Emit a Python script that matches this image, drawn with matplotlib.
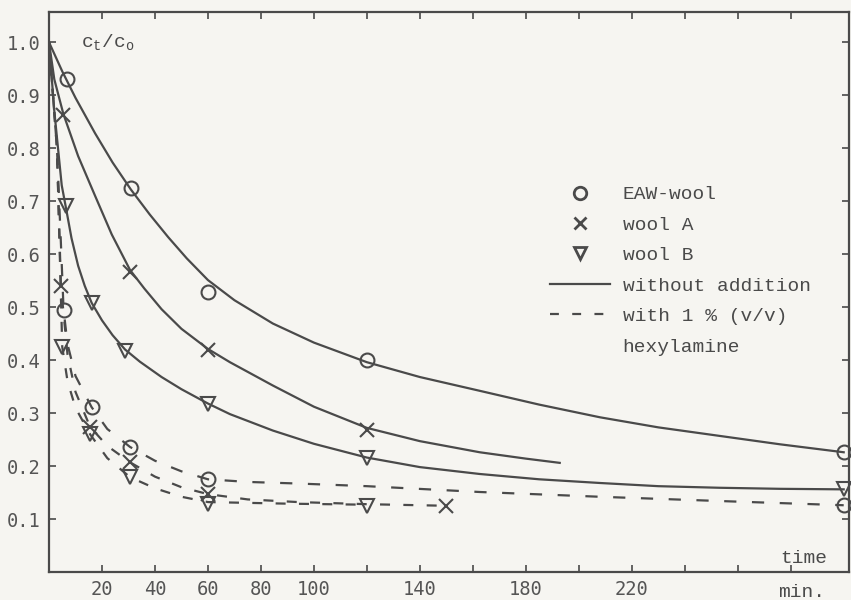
import matplotlib
matplotlib.use("Agg")
import matplotlib.pyplot as plt
from matplotlib.lines import Line2D

plt.rcParams['mathtext.fontset'] = 'custom'
plt.rcParams['mathtext.rm'] = 'Liberation Mono'
plt.rcParams['mathtext.it'] = 'Liberation Mono'

# measured points (time in min, c_t/c_o)
eaw_t = [6.7, 30.9, 60, 120, 300]
eaw_y = [0.93, 0.724, 0.528, 0.40, 0.226]
woolA_t = [5.4, 30.6, 60, 120]
woolA_y = [0.862, 0.566, 0.419, 0.268]
woolB_t = [6.3, 16.1, 28.7, 60, 120]
woolB_y = [0.69, 0.508, 0.418, 0.317, 0.215]
woolB_end_t = [300]
woolB_end_y = [0.157]

eaw_hex_t = [5.5, 16.1, 30.6, 60, 300]
eaw_hex_y = [0.495, 0.311, 0.236, 0.175, 0.126]
woolA_hex_t = [4.5, 15.5, 30.6, 60, 150]
woolA_hex_y = [0.54, 0.274, 0.207, 0.147, 0.125]
woolB_hex_t = [5, 15.5, 30.6, 60, 120]
woolB_hex_y = [0.425, 0.26, 0.179, 0.128, 0.125]

# drawn curves
eaw_fit_t = [0, 5, 10, 17.4, 24, 30.9, 38, 45, 52, 60, 70, 84.5, 100, 120, 140, 162.6,
             185, 208, 230, 253, 276, 300]
eaw_fit_y = [1.0, 0.945, 0.895, 0.828, 0.773, 0.722, 0.675, 0.632, 0.592, 0.551, 0.513,
             0.469, 0.433, 0.396, 0.368, 0.342, 0.316, 0.292, 0.273, 0.257, 0.241, 0.226]
woolA_fit_t = [0, 2, 5.4, 11, 17.4, 23.7, 30.6, 36, 42.5, 50, 60, 68.3, 84.5, 100, 120,
               140, 162.6, 180, 192.8]
woolA_fit_y = [1.0, 0.93, 0.865, 0.785, 0.71, 0.637, 0.57, 0.535, 0.496, 0.459, 0.421,
               0.396, 0.352, 0.312, 0.272, 0.247, 0.226, 0.214, 0.206]
woolB_fit_t = [0, 2, 4.8, 6.3, 8.5, 11, 13.5, 16.1, 20, 24, 28.7, 34.3, 42.5, 50, 60,
               68.3, 84.5, 100, 120, 140, 162.6, 185, 208, 230, 253, 276, 300]
woolB_fit_y = [1.0, 0.87, 0.73, 0.69, 0.63, 0.578, 0.54, 0.508, 0.475, 0.447, 0.42,
               0.397, 0.368, 0.345, 0.318, 0.298, 0.267, 0.242, 0.216, 0.198, 0.185,
               0.175, 0.168, 0.162, 0.159, 0.157, 0.156]

eaw_hexfit_t = [0, 3, 4.5, 5.5, 7, 10, 16.1, 22, 30.6, 40, 50, 60, 75, 94, 120, 162.6,
                208, 253, 300]
eaw_hexfit_y = [1.0, 0.8, 0.62, 0.495, 0.43, 0.37, 0.311, 0.27, 0.236, 0.21, 0.19, 0.175,
                0.17, 0.167, 0.162, 0.151, 0.142, 0.134, 0.126]
woolA_hexfit_t = [0, 3, 4.5, 7, 10, 15.5, 22, 30.6, 40, 50, 60, 75, 94, 120, 150]
woolA_hexfit_y = [1.0, 0.8, 0.54, 0.41, 0.34, 0.274, 0.238, 0.207, 0.18, 0.16, 0.147,
                  0.137, 0.132, 0.128, 0.125]
woolB_hexfit_t = [0, 3, 5, 7, 10, 15.5, 22, 30.6, 40, 50, 60, 90, 120]
woolB_hexfit_y = [1.0, 0.8, 0.425, 0.36, 0.31, 0.26, 0.215, 0.179, 0.158, 0.142, 0.132,
                  0.129, 0.127]

xtick_pos = list(range(20, 281, 20))
xtick_lab = ['20', '40', '60', '80', '100', '', '140', '', '180', '', '220', '', '', '']
ytick_pos = [0.1, 0.2, 0.3, 0.4, 0.5, 0.6, 0.7, 0.8, 0.9, 1.0]
ytick_lab = ['0.1', '0.2', '0.3', '0.4', '0.5', '0.6', '0.7', '0.8', '0.9', '1.0']

ink = '#4a4a4a'
paper = '#f6f5f1'
mono = 'Liberation Mono'

fig = plt.figure(figsize=(8.51, 6.0), dpi=100, facecolor=paper)
ax = fig.add_axes([49/851, 28/600, 800/851, 560/600], facecolor=paper)

lw = 1.6
ax.plot(eaw_fit_t, eaw_fit_y, color=ink, lw=lw)
ax.plot(woolA_fit_t, woolA_fit_y, color=ink, lw=lw)
ax.plot(woolB_fit_t, woolB_fit_y, color=ink, lw=lw)
ax.plot(eaw_hexfit_t, eaw_hexfit_y, color=ink, lw=lw, dashes=(5.5, 7))
ax.plot(woolA_hexfit_t, woolA_hexfit_y, color=ink, lw=lw, dashes=(4.5, 6))
ax.plot(woolB_hexfit_t, woolB_hexfit_y, color=ink, lw=lw, dashes=(4.5, 6))

mk = dict(linestyle='none', color=ink, mfc='none', mew=1.5, ms=10, clip_on=False)
ax.plot(eaw_t, eaw_y, marker='o', **mk)
ax.plot(eaw_hex_t, eaw_hex_y, marker='o', **mk)
ax.plot(woolA_t, woolA_y, marker='x', **mk)
ax.plot(woolA_hex_t, woolA_hex_y, marker='x', **mk)
ax.plot(woolB_t, woolB_y, marker='v', **mk)
ax.plot(woolB_end_t, woolB_end_y, marker='v', **mk)
ax.plot(woolB_hex_t, woolB_hex_y, marker='v', **mk)

ax.set_xlim(0, 302)
ax.set_ylim(0, 1.057)
ax.set_xticks(xtick_pos)
ax.set_xticklabels(xtick_lab)
ax.set_yticks(ytick_pos)
ax.set_yticklabels(ytick_lab)
ax.tick_params(direction='in', length=5, width=1.2, colors=ink, labelcolor='#555555',
               top=True, right=True, labelsize=13.5, pad=6)
for lab in ax.get_xticklabels() + ax.get_yticklabels():
    lab.set_family('DejaVu Sans Mono')
for sp in ax.spines.values():
    sp.set_linewidth(1.6)
    sp.set_color(ink)

ax.text(12, 1.0, r'c$_\mathrm{t}$/c$_\mathrm{o}$', family=mono, fontsize=14, color=ink,
        ha='left', va='center')
ax.text(285, 0.026, 'time', family=mono, fontsize=14, color=ink, ha='center', va='center')
ax.text(284, -0.036, 'min.', family=mono, fontsize=14, color=ink, ha='center', va='center',
        transform=ax.get_xaxis_transform())

handles = [
    Line2D([], [], ls='none', marker='o', color=ink, mfc='none', mew=2, ms=9),
    Line2D([], [], ls='none', marker='x', color=ink, mew=2, ms=9),
    Line2D([], [], ls='none', marker='v', color=ink, mfc='none', mew=2, ms=9),
    Line2D([], [], color=ink, lw=lw),
    Line2D([], [], color=ink, lw=lw, dashes=(4, 6)),
    Line2D([], [], ls='none'),
]
labels = ['EAW-wool', 'wool A', 'wool B', 'without addition', 'with 1 % (v/v)', 'hexylamine']
leg = ax.legend(handles, labels, loc='upper left', bbox_to_anchor=(540/851, 1 - 176/600),
                bbox_transform=fig.transFigure, frameon=False, handlelength=3.1,
                handletextpad=0.65, labelspacing=0.66, borderpad=0,
                prop={'family': mono, 'size': 14})
for t in leg.get_texts():
    t.set_color(ink)

fig.savefig('out.png', dpi=100, facecolor=paper)
